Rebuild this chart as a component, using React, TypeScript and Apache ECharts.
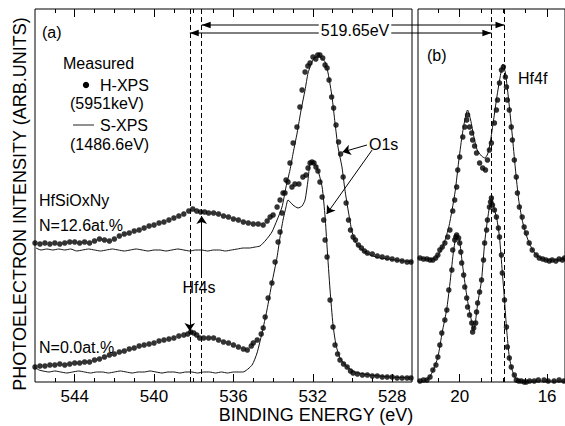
import React, { useEffect, useRef } from 'react';
import * as echarts from 'echarts';

const FONT = '"Liberation Sans", Arial, Helvetica, sans-serif';

// ---------- Panel (a): O1s / Hf4s region  [binding energy eV, intensity arb.u.] ----------
const hxpsA_N126: [number, number][] = [
  [546.0, 139], [545.75, 138], [545.5, 139], [545.25, 138], [545.0, 139], [544.75, 138], [544.5, 139],
  [544.25, 140], [544.0, 140], [543.75, 139], [543.5, 140], [543.25, 139], [543.0, 141], [542.75, 143],
  [542.5, 142], [542.25, 141], [542.0, 143], [541.75, 146], [541.5, 148], [541.25, 149], [541.0, 151],
  [540.75, 152], [540.5, 154], [540.25, 156], [540.0, 157], [539.75, 159], [539.5, 160], [539.25, 162],
  [539.0, 164], [538.75, 166], [538.5, 168], [538.25, 171], [538.05, 173], [537.85, 171], [537.65, 170],
  [537.45, 170], [537.25, 169], [537.0, 169], [536.75, 168], [536.5, 166], [536.25, 165], [536.0, 163],
  [535.75, 162], [535.5, 160], [535.25, 159], [535.0, 158], [534.75, 158], [534.5, 157], [534.3, 161],
  [534.15, 165], [534.0, 167], [533.8, 175], [533.65, 182], [533.5, 189], [533.35, 202], [533.15, 219],
  [532.99, 239], [532.8, 255], [532.65, 275], [532.54, 292], [532.39, 310], [532.25, 316], [532.14, 319],
  [531.99, 325], [531.85, 323], [531.75, 327], [531.64, 327], [531.5, 324], [531.38, 317], [531.28, 314],
  [531.18, 302], [531.05, 285], [530.95, 274], [530.83, 257], [530.7, 240], [530.6, 228], [530.47, 205],
  [530.32, 179], [530.2, 162], [530.1, 152], [529.97, 145], [529.85, 142], [529.7, 137], [529.55, 134],
  [529.4, 131], [529.25, 129], [529.0, 128], [528.75, 126], [528.5, 125], [528.25, 124], [528.0, 123],
  [527.75, 122], [527.5, 121], [527.25, 120], [527.05, 120],
];

const sxpsA_N126: [number, number][] = [
  [545.95, 134], [545.7, 132], [545.4, 133], [545.1, 132], [544.8, 133], [544.5, 132], [544.2, 133],
  [543.9, 131], [543.6, 132], [543.3, 133], [543.0, 132], [542.7, 131], [542.4, 132], [542.1, 133],
  [541.8, 132], [541.5, 131], [541.2, 132], [540.9, 133], [540.6, 132], [540.3, 131], [540.0, 132],
  [539.7, 132], [539.4, 131], [539.1, 132], [538.8, 133], [538.5, 132], [538.2, 131], [537.9, 132],
  [537.6, 132], [537.3, 131], [537.0, 132], [536.7, 132], [536.4, 131], [536.1, 132], [535.8, 133],
  [535.5, 134], [535.2, 134], [534.9, 135], [534.66, 136], [534.36, 142], [534.06, 150], [533.8, 162],
  [533.55, 175], [533.35, 195], [533.15, 212], [532.99, 229], [532.79, 249], [532.59, 272], [532.39, 292],
  [532.24, 309], [532.1, 317], [531.99, 322], [531.8, 325], [531.64, 325], [531.5, 323], [531.38, 320],
  [531.23, 309], [531.03, 285], [530.88, 259], [530.73, 235], [530.53, 215], [530.38, 192], [530.22, 172],
  [530.02, 150], [529.82, 139], [529.52, 132], [529.12, 127], [528.61, 124], [528.2, 123], [527.85, 122],
  [527.4, 121], [527.0, 120],
];

const hxpsA_N00: [number, number][] = [
  [546.0, 15], [545.75, 16], [545.5, 16], [545.25, 17], [545.0, 17], [544.75, 18], [544.5, 17],
  [544.25, 18], [544.0, 19], [543.75, 19], [543.5, 20], [543.25, 20], [543.0, 22], [542.75, 23],
  [542.5, 25], [542.25, 27], [542.0, 28], [541.75, 30], [541.5, 31], [541.25, 33], [541.0, 34],
  [540.75, 36], [540.5, 37], [540.25, 38], [540.0, 39], [539.75, 41], [539.5, 42], [539.25, 43],
  [539.0, 44], [538.75, 46], [538.5, 47], [538.3, 48], [538.15, 50], [538.0, 49], [537.85, 47],
  [537.7, 44], [537.5, 44], [537.25, 44], [537.0, 44], [536.75, 42], [536.5, 40], [536.25, 39],
  [536.0, 37], [535.75, 35], [535.5, 33], [535.3, 32], [535.1, 36], [535.0, 39], [534.8, 42],
  [534.6, 48], [534.5, 54], [534.4, 65], [534.25, 84], [534.06, 99], [533.9, 120], [533.75, 140],
  [533.65, 150], [533.55, 169], [533.4, 189], [533.25, 200], [533.05, 195], [532.9, 198], [532.7, 198],
  [532.5, 205], [532.34, 207], [532.24, 214], [532.14, 219], [532.04, 220], [531.94, 219], [531.84, 215],
  [531.74, 211], [531.64, 200], [531.53, 185], [531.45, 162], [531.38, 142], [531.28, 125], [531.13, 82],
  [530.98, 55], [530.88, 37], [530.75, 28], [530.63, 22], [530.45, 18], [530.27, 15], [530.1, 11],
  [529.97, 9], [529.75, 8], [529.5, 7], [529.25, 7], [529.0, 6], [528.75, 6], [528.5, 5], [528.25, 5],
  [528.0, 5], [527.75, 4], [527.5, 4], [527.25, 4], [527.05, 4],
];

const sxpsA_N00: [number, number][] = [
  [545.95, 14], [545.8, 12], [545.6, 11], [545.3, 10], [545.0, 11], [544.7, 10], [544.4, 9], [544.1, 10],
  [543.8, 11], [543.5, 10], [543.2, 9], [542.9, 10], [542.6, 10], [542.3, 9], [542.0, 10], [541.7, 11],
  [541.4, 10], [541.1, 9], [540.8, 10], [540.5, 10], [540.2, 11], [539.9, 10], [539.6, 9], [539.3, 10],
  [539.0, 10], [538.7, 9], [538.4, 10], [538.1, 10], [537.8, 9], [537.5, 10], [537.2, 10], [536.9, 9],
  [536.6, 10], [536.3, 9], [536.0, 10], [535.7, 10], [535.52, 10], [535.06, 17], [534.81, 29],
  [534.56, 49], [534.31, 72], [534.06, 99], [533.8, 125], [533.65, 145], [533.5, 162], [533.35, 175],
  [533.25, 182], [533.0, 177], [532.74, 174], [532.54, 176], [532.39, 182], [532.24, 202], [532.14, 219],
  [531.99, 220], [531.79, 215], [531.53, 195], [531.38, 165], [531.28, 135], [531.13, 92], [530.98, 57],
  [530.83, 37], [530.63, 24], [530.27, 15], [529.87, 10], [529.12, 7], [528.1, 5], [527.05, 4],
];

// ---------- Panel (b): Hf4f region ----------
const hxpsB_N126: [number, number][] = [
  [21.82, 124], [21.66, 123], [21.5, 123], [21.36, 122], [21.23, 122], [21.1, 124], [21.0, 127],
  [20.91, 132], [20.8, 135], [20.68, 139], [20.55, 145], [20.45, 152], [20.32, 171], [20.23, 182],
  [20.14, 195], [20.09, 212], [20.0, 225], [19.86, 245], [19.77, 255], [19.68, 262], [19.64, 267],
  [19.55, 255], [19.45, 249], [19.41, 242], [19.32, 236], [19.23, 229], [19.09, 219], [18.95, 214],
  [18.82, 212], [18.73, 222], [18.64, 232], [18.55, 239], [18.41, 259], [18.32, 272], [18.27, 282],
  [18.18, 299], [18.09, 312], [18.0, 315], [17.91, 305], [17.86, 295], [17.82, 282], [17.73, 272],
  [17.64, 255], [17.59, 242], [17.5, 222], [17.41, 205], [17.36, 189], [17.27, 175], [17.14, 165],
  [17.05, 155], [16.95, 149], [16.82, 139], [16.68, 132], [16.5, 127], [16.36, 124], [16.2, 123],
  [16.05, 122], [15.9, 121], [15.77, 122], [15.6, 121], [15.45, 123], [15.3, 122], [15.2, 124],
];

const sxpsB_N126: [number, number][] = [
  [21.91, 124], [21.5, 123], [21.1, 124], [20.9, 130], [20.7, 140], [20.5, 155], [20.35, 172],
  [20.2, 192], [20.05, 220], [19.9, 245], [19.75, 264], [19.64, 272], [19.5, 262], [19.35, 245],
  [19.2, 232], [19.0, 226], [18.85, 224], [18.72, 228], [18.6, 240], [18.45, 262], [18.3, 285],
  [18.15, 305], [18.02, 318], [17.9, 308], [17.75, 280], [17.6, 248], [17.45, 213], [17.3, 182],
  [17.15, 163], [17.0, 150], [16.8, 138], [16.6, 130], [16.3, 124], [16.0, 122], [15.6, 122], [15.18, 123],
];

const hxpsB_N00: [number, number][] = [
  [21.82, 1], [21.66, 2], [21.5, 2], [21.36, 5], [21.23, 12], [21.09, 17], [21.0, 25], [20.91, 37],
  [20.82, 49], [20.68, 62], [20.59, 72], [20.5, 92], [20.36, 112], [20.32, 132], [20.23, 142],
  [20.18, 145], [20.14, 147], [20.05, 144], [20.0, 139], [19.95, 130], [19.91, 119], [19.82, 107],
  [19.77, 95], [19.68, 84], [19.64, 75], [19.55, 67], [19.45, 59], [19.41, 50], [19.36, 54],
  [19.27, 59], [19.23, 70], [19.18, 79], [19.09, 90], [19.0, 102], [18.91, 122], [18.86, 139],
  [18.77, 152], [18.73, 162], [18.64, 175], [18.59, 180], [18.55, 184], [18.5, 177], [18.41, 172],
  [18.32, 165], [18.23, 154], [18.18, 145], [18.09, 127], [18.05, 109], [17.95, 82], [17.86, 55],
  [17.82, 35], [17.73, 24], [17.64, 15], [17.5, 7], [17.41, 2], [17.3, 1], [17.18, 1], [17.05, 0],
  [16.95, 0], [16.8, 1], [16.59, 1], [16.4, 2], [16.14, 2], [15.95, 1], [15.68, 1], [15.45, 2], [15.23, 1],
];

const sxpsB_N00: [number, number][] = [
  [21.91, 1], [21.5, 2], [21.25, 10], [21.0, 25], [20.8, 50], [20.6, 72], [20.45, 98], [20.3, 128],
  [20.18, 145], [20.1, 147], [20.0, 140], [19.9, 122], [19.75, 97], [19.6, 76], [19.45, 60], [19.38, 53],
  [19.3, 57], [19.18, 78], [19.0, 102], [18.86, 139], [18.73, 162], [18.6, 180], [18.53, 185], [18.45, 176],
  [18.3, 163], [18.18, 145], [18.05, 110], [17.95, 82], [17.85, 52], [17.73, 25], [17.6, 12], [17.45, 4],
  [17.2, 1], [16.8, 1], [16.2, 1], [15.18, 1],
];

// axes
const ticksA = [528, 529, 530, 531, 532, 533, 534, 535, 536, 537, 538, 539, 540, 541, 542, 543, 544, 545];
const majorA = [528, 532, 536, 540, 544];
const ticksB = [16, 17, 18, 19, 20, 21];
const majorB = [16, 20];
// reference positions (dashed lines): Hf4s in (a), Hf4f in (b); separation 519.65 eV
const refA = [538.2, 537.6];
const refB = [18.55, 17.95];

export default function App() {
  const ref = useRef<HTMLDivElement>(null);
  useEffect(() => {
    if (!ref.current) return;
    const chart = echarts.init(ref.current, null, { renderer: 'svg' });

    const axisBase = (grid: number, min: number, max: number, pos: 'top' | 'bottom', ticks: number[], len: number, labels: number[] | null) => ({
      type: 'value',
      gridIndex: grid,
      min,
      max,
      inverse: true,
      position: pos,
      axisLine: { show: false },
      splitLine: { show: false },
      axisTick: { show: true, inside: true, length: len, customValues: ticks, lineStyle: { color: '#000', width: 1 } },
      axisLabel: labels
        ? { show: true, customValues: labels, color: '#000', fontSize: 17, fontFamily: FONT, margin: 6 }
        : { show: false },
    });

    const dotStyle = { color: '#000' };
    const lineSty = { color: '#111', width: 1 };

    const option: any = {
      animation: false,
      grid: [
        { left: 35, top: 9, width: 377, height: 373, show: true, borderColor: '#000', borderWidth: 1, backgroundColor: 'transparent' },
        { left: 418, top: 9, width: 148, height: 373, show: true, borderColor: '#000', borderWidth: 1, backgroundColor: 'transparent' },
      ],
      xAxis: [
        axisBase(0, 527, 546, 'bottom', ticksA, 4, majorA),
        axisBase(0, 527, 546, 'bottom', majorA, 8, null),
        axisBase(0, 527, 546, 'top', ticksA, 4, null),
        axisBase(0, 527, 546, 'top', majorA, 8, null),
        axisBase(1, 15.18, 21.91, 'bottom', ticksB, 4, majorB),
        axisBase(1, 15.18, 21.91, 'bottom', majorB, 8, null),
        axisBase(1, 15.18, 21.91, 'top', ticksB, 4, null),
        axisBase(1, 15.18, 21.91, 'top', majorB, 8, null),
      ],
      yAxis: [
        { type: 'value', gridIndex: 0, min: 0, max: 373, show: false },
        { type: 'value', gridIndex: 1, min: 0, max: 373, show: false },
      ],
      series: [
        {
          name: 'S-XPS N=12.6', type: 'line', xAxisIndex: 0, yAxisIndex: 0, data: sxpsA_N126,
          showSymbol: false, smooth: 0.2, lineStyle: lineSty, silent: true,
          markLine: {
            silent: true, symbol: ['none', 'none'], label: { show: false },
            lineStyle: { color: '#000', type: [5, 3], width: 1 },
            data: refA.map((v) => ({ xAxis: v })),
          },
        },
        {
          name: 'S-XPS N=0.0', type: 'line', xAxisIndex: 0, yAxisIndex: 0, data: sxpsA_N00,
          showSymbol: false, smooth: 0.2, lineStyle: lineSty, silent: true,
          markLine: {
            silent: true, symbol: ['none', 'arrow'], symbolSize: 8, label: { show: false },
            lineStyle: { color: '#000', type: 'solid', width: 1 },
            data: [
              [{ coord: [refA[0], 85] }, { coord: [refA[0], 51] }],
              [{ coord: [refA[1], 108] }, { coord: [refA[1], 166] }],
              [{ coord: [529.27, 237] }, { coord: [530.5, 230] }],
              [{ coord: [529.01, 232] }, { coord: [531.3, 168] }],
            ],
          },
        },
        { name: 'H-XPS N=12.6', type: 'scatter', xAxisIndex: 0, yAxisIndex: 0, data: hxpsA_N126, symbolSize: 5.5, itemStyle: dotStyle, silent: true },
        { name: 'H-XPS N=0.0', type: 'scatter', xAxisIndex: 0, yAxisIndex: 0, data: hxpsA_N00, symbolSize: 5.5, itemStyle: dotStyle, silent: true },
        {
          name: 'S-XPS Hf4f N=12.6', type: 'line', xAxisIndex: 4, yAxisIndex: 1, data: sxpsB_N126,
          showSymbol: false, smooth: 0.2, lineStyle: lineSty, silent: true,
          markLine: {
            silent: true, symbol: ['none', 'none'], label: { show: false },
            lineStyle: { color: '#000', type: [5, 3], width: 1 },
            data: refB.map((v) => ({ xAxis: v })),
          },
        },
        { name: 'S-XPS Hf4f N=0.0', type: 'line', xAxisIndex: 4, yAxisIndex: 1, data: sxpsB_N00, showSymbol: false, smooth: 0.2, lineStyle: lineSty, silent: true },
        { name: 'H-XPS Hf4f N=12.6', type: 'scatter', xAxisIndex: 4, yAxisIndex: 1, data: hxpsB_N126, symbolSize: 5.5, itemStyle: dotStyle, silent: true },
        { name: 'H-XPS Hf4f N=0.0', type: 'scatter', xAxisIndex: 4, yAxisIndex: 1, data: hxpsB_N00, symbolSize: 5.5, itemStyle: dotStyle, silent: true },
      ],
    };
    chart.setOption(option);

    const pa = (v: number) => chart.convertToPixel({ xAxisIndex: 0 }, v) as number;
    const pb = (v: number) => chart.convertToPixel({ xAxisIndex: 4 }, v) as number;
    const txt = (text: string, x: number, y: number, size = 16, align = 'left', extra: any = {}) => ({
      type: 'text', x, y, z: 50,
      style: { text, fill: '#000', font: `${size}px ${FONT}`, align, verticalAlign: 'middle', ...extra },
    });
    const yU = 25, yL = 33;
    const aU = pa(refA[1]), bU = pb(refB[1]);
    const aL = pa(refA[0]), bL = pb(refB[0]);
    const head = (x: number, y: number, dir: number) => ({
      type: 'polygon', z: 40,
      shape: { points: [[x, y], [x - dir * 9, y - 3.2], [x - dir * 9, y + 3.2]] },
      style: { fill: '#000' },
    });
    const graphic: any[] = [
      { type: 'line', z: 40, shape: { x1: aU, y1: yU, x2: bU, y2: yU }, style: { stroke: '#000', lineWidth: 1.2 } },
      { type: 'line', z: 40, shape: { x1: aL, y1: yL, x2: bL, y2: yL }, style: { stroke: '#000', lineWidth: 1.2 } },
      head(aU, yU, -1), head(bU, yU, 1), head(aL, yL, -1), head(bL, yL, 1),
      txt('519.65eV', 355, 30, 16, 'center', { backgroundColor: '#fff', padding: [1, 2] }),
      txt('(a)', 42, 32, 16),
      txt('(b)', 427, 55, 16),
      txt('Hf4f', 518, 78, 16),
      txt('O1s', 369, 144, 16),
      txt('Hf4s', 199, 287, 16, 'center'),
      txt('Measured', 63, 63, 16),
      { type: 'circle', z: 50, shape: { cx: 86, cy: 85, r: 3.2 }, style: { fill: '#000' } },
      txt('H-XPS', 100, 85, 16),
      txt('(5951keV)', 70, 103, 16),
      { type: 'line', z: 50, shape: { x1: 73, y1: 125, x2: 94, y2: 125 }, style: { stroke: '#222', lineWidth: 1 } },
      txt('S-XPS', 100, 125, 16),
      txt('(1486.6eV)', 70, 144, 16),
      txt('HfSiOxNy', 39, 200, 16),
      txt('N=12.6at.%', 39, 225, 16),
      txt('N=0.0at.%', 39, 347, 16),
      txt('BINDING ENERGY (eV)', 316, 415, 18, 'center'),
      { type: 'text', x: 19.5, y: 204, rotation: Math.PI / 2, z: 50,
        style: { text: 'PHOTOELECTRON INTENSITY (ARB.UNITS)', fill: '#000', font: `18px ${FONT}`, align: 'center', verticalAlign: 'middle' } },
    ];
    chart.setOption({ graphic });

    return () => chart.dispose();
  }, []);
  return <div ref={ref} style={{ position: 'absolute', left: 0, top: 0, width: 565, height: 426, background: '#fff' }} />;
}
